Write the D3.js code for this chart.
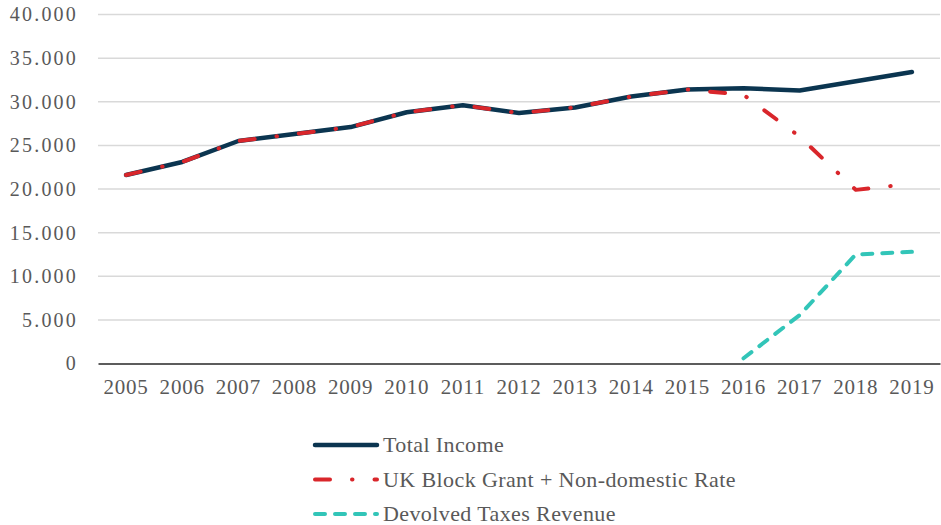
<!DOCTYPE html>
<html>
<head>
<meta charset="utf-8">
<script src="https://cdn.jsdelivr.net/npm/d3@7"></script>
<style>
  body { margin: 0; background: #fff; }
  text { font-family: "Liberation Serif", "DejaVu Serif", serif; fill: #595959; }
</style>
</head>
<body>
<div id="chart"></div>
<script>
// chart data
var years = ["2005", "2006", "2007", "2008", "2009", "2010", "2011", "2012",
  "2013", "2014", "2015", "2016", "2017", "2018", "2019"];
var totalIncome = [21600, 23100, 25500, 26300, 27100, 28800, 29600, 28700,
  29350, 30600, 31400, 31550, 31300, 32350, 33400];
var ukBlockGrant = [21600, 23100, 25500, 26300, 27100, 28800, 29600, 28700,
  29350, 30600, 31400, 30800, 26000, 19900, 20600];
var devolvedTaxes = [null, null, null, null, null, null, null, null,
  null, null, null, 600, 5550, 12500, 12800];
var yTicks = [0, 5000, 10000, 15000, 20000, 25000, 30000, 35000, 40000];

var seriesNames = ["Total Income", "UK Block Grant + Non-domestic Rate", "Devolved Taxes Revenue"];

var width = 941, height = 525;
var margin = { top: 14.5, right: 1, bottom: 161.5, left: 98 };
var w = width - margin.left - margin.right,
    h = height - margin.top - margin.bottom;

var svg = d3.select("#chart")
  .append("svg")
  .attr("width", width)
  .attr("height", height);

var g = svg.append("g")
  .attr("transform", "translate(" + margin.left + "," + margin.top + ")");

// scales
var x = d3.scaleBand().domain(years).range([0, w]);
var y = d3.scaleLinear().domain([0, 40000]).range([h, 0]);

function fmt(v) {
  return d3.format(",")(v).replace(/,/g, ".");
}

// grid lines
g.append("g")
  .selectAll("line")
  .data(yTicks.slice(1))
  .enter()
  .append("line")
  .attr("x1", 0)
  .attr("x2", w)
  .attr("y1", function (d) { return y(d); })
  .attr("y2", function (d) { return y(d); })
  .attr("stroke", "#d9d9d9")
  .attr("stroke-width", 1.5);

// y axis labels
var yAxis = g.append("g")
  .call(d3.axisLeft(y).tickValues(yTicks).tickFormat(fmt).tickSize(0).tickPadding(20));
yAxis.select(".domain").remove();
yAxis.selectAll("text")
  .attr("font-size", 20)
  .attr("letter-spacing", 2.2)
  .style("font-family", "Liberation Serif")
  .attr("fill", "#595959");

// x axis
var xAxis = g.append("g")
  .attr("transform", "translate(0," + h + ")")
  .call(d3.axisBottom(x).tickSize(0).tickPadding(16));
xAxis.select(".domain")
  .attr("stroke", "#262626")
  .attr("stroke-width", 1.5);
xAxis.selectAll("text")
  .attr("font-size", 21)
  .attr("letter-spacing", 0.8)
  .style("font-family", "Liberation Serif")
  .attr("fill", "#595959");

// line generator
function makeLine(values) {
  return d3.line()
    .defined(function (d, i) { return values[i] != null; })
    .x(function (d, i) { return x(years[i]) + x.bandwidth() / 2; })
    .y(function (d, i) { return y(values[i]); });
}

var styles = [
  { color: "#0b3550", dash: null, width: 4.5 },
  { color: "#d9262b", dash: "15,22,0.5,22", width: 4 },
  { color: "#32c5b8", dash: "10,10", width: 4 }
];
var allSeries = [totalIncome, ukBlockGrant, devolvedTaxes];

allSeries.forEach(function (values, k) {
  g.append("path")
    .datum(values)
    .attr("fill", "none")
    .attr("stroke", styles[k].color)
    .attr("stroke-width", styles[k].width)
    .attr("stroke-linecap", "round")
    .attr("stroke-linejoin", "round")
    .attr("stroke-dasharray", styles[k].dash)
    .attr("d", makeLine(values));
});

// legend
var legend = svg.append("g")
  .attr("transform", "translate(315,445)");

seriesNames.forEach(function (name, k) {
  var row = legend.append("g")
    .attr("transform", "translate(0," + (k * 34.5) + ")");
  row.append("line")
    .attr("x1", 0)
    .attr("x2", 62)
    .attr("stroke", styles[k].color)
    .attr("stroke-width", styles[k].width)
    .attr("stroke-linecap", "round")
    .attr("stroke-dasharray", styles[k].dash);
  row.append("text")
    .attr("x", 68)
    .attr("y", 7)
    .attr("font-size", 22)
    .attr("letter-spacing", 0.4)
    .text(name);
});
</script>
</body>
</html>
